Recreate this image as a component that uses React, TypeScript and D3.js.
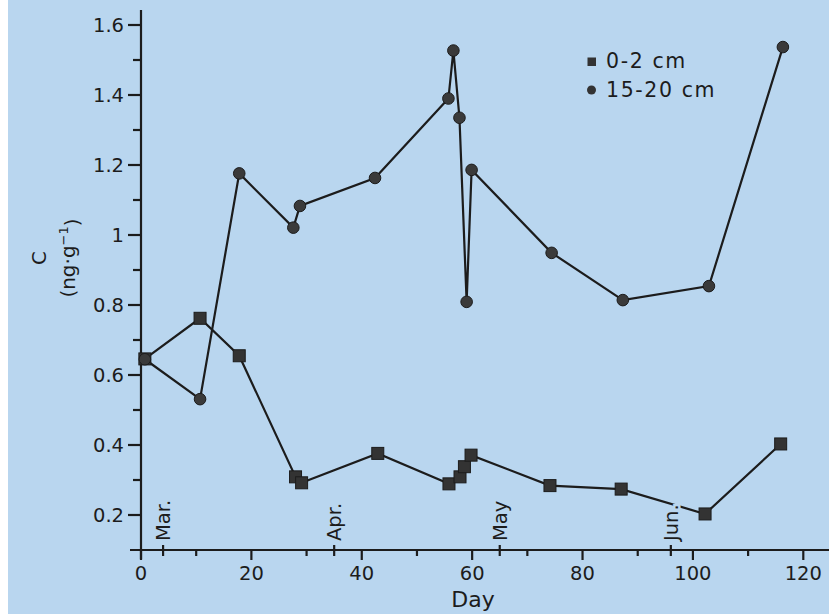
import React from 'react';
import * as d3 from 'd3';

const W = 829,
      H = 614;

// day of sampling and concentration C (ng/g)
const daysTop = [0.7, 10.7, 17.8, 28, 29.1, 42.9, 55.8, 57.8, 58.6, 59.8, 74.1, 87, 102.2, 115.9];
const valsTop = [0.646, 0.762, 0.655, 0.309, 0.292, 0.376, 0.289, 0.309, 0.338, 0.371, 0.284, 0.274, 0.203, 0.403];

const daysDeep = [0.7, 10.7, 17.8, 27.6, 28.8, 42.4, 55.7, 56.6, 57.7, 59.0, 59.9, 74.4, 87.3, 102.9, 116.3];
const valsDeep = [0.645, 0.531, 1.176, 1.021, 1.083, 1.163, 1.39, 1.527, 1.335, 0.809, 1.186, 0.949, 0.814, 0.854, 1.537];

const xMajor = [0, 20, 40, 60, 80, 100, 120];
const xMinor = [10, 30, 50, 70, 90, 110];
const yMajor = [0.2, 0.4, 0.6, 0.8, 1, 1.2, 1.4, 1.6];
const yMinor = [0.3, 0.5, 0.7, 0.9, 1.1, 1.3, 1.5];
const months = ['Mar.', 'Apr.', 'May', 'Jun.'];
const monthDays = [4, 35, 65, 96];

const seriesNames = ['0-2 cm', '15-20 cm'];

const x = d3.scaleLinear().domain([0, 120]).range([141, 803.3]);
const y = d3.scaleLinear().domain([0.1, 1.6]).range([550, 25]);

const bg = '#b9d6ef',
      ink = '#1c1c1c',
      font = '"DejaVu Sans", sans-serif';

const line = d3.line<number>()
  .x(d => x(d[0]))
  .y(d => y(d[1]));

const fmt = (v: number) => (v === 1 ? '1' : v.toFixed(1));

export default function App() {
  const top = daysTop.map((d, i) => [d, valsTop[i]]);
  const deep = daysDeep.map((d, i) => [d, valsDeep[i]]);

  return (
    <svg width={W} height={H}
         style={{position: 'absolute', left: 0, top: 0, display: 'block'}}
         fontFamily={font}>
      <rect x={0} y={0} width={W} height={H} fill="#fff" />
      <rect x={8} y={0} width={W - 8} height={H} fill={bg} />

      {/* y axis */}
      <line x1={x(0)} x2={x(0)} y1={10} y2={559} stroke={ink} strokeWidth={2.2} />
      {yMajor.map(v =>
        <g key={'ym' + v}>
          <line x1={128} x2={x(0)} y1={y(v)} y2={y(v)} stroke={ink} strokeWidth={2.2} />
          <text x={124} y={y(v)} dy="0.36em" textAnchor="end" fontSize={19.5} fill={ink}>{fmt(v)}</text>
        </g>
      )}
      {yMinor.map(v =>
        <line key={'yn' + v} x1={133} x2={x(0)} y1={y(v)} y2={y(v)} stroke={ink} strokeWidth={2.2} />
      )}

      {/* x axis */}
      <line x1={130} x2={W} y1={y(0.1)} y2={y(0.1)} stroke={ink} strokeWidth={2.2} />
      {xMajor.map(d =>
        <g key={'xm' + d}>
          <line x1={x(d)} x2={x(d)} y1={y(0.1)} y2={y(0.1) + 10} stroke={ink} strokeWidth={2.2} />
          <text x={x(d)} y={580} textAnchor="middle" fontSize={19.5} fill={ink}>{d}</text>
        </g>
      )}
      {xMinor.map(d =>
        <line key={'xn' + d} x1={x(d)} x2={x(d)} y1={y(0.1)} y2={y(0.1) + 6} stroke={ink} strokeWidth={2.2} />
      )}

      {/* data lines */}
      <path d={line(top as any) || ''} fill="none" stroke={ink} strokeWidth={2.2} />
      <path d={line(deep as any) || ''} fill="none" stroke={ink} strokeWidth={2.2} />

      {/* month marks */}
      {months.map((m, i) =>
        <g key={m}>
          <line x1={x(monthDays[i])} x2={x(monthDays[i])} y1={y(0.1) - 5} y2={y(0.1) + 6}
                stroke={ink} strokeWidth={2.2} />
          <text transform={`translate(${x(monthDays[i])},541) rotate(-90)`} dy="0.36em"
                fontSize={19.5} fill={ink} stroke={bg} strokeWidth={5} paintOrder="stroke">{m}</text>
        </g>
      )}

      {top.map((p, i) =>
        <rect key={'s' + i} x={x(p[0]) - 6} y={y(p[1]) - 6} width={12} height={12}
              fill="#333" stroke={ink} strokeWidth={1} />
      )}
      {deep.map((p, i) =>
        <circle key={'c' + i} cx={x(p[0])} cy={y(p[1])} r={5.8}
                fill="#3a3a3a" stroke={ink} strokeWidth={1} />
      )}

      {/* legend */}
      <rect x={587.5} y={57.5} width={8.5} height={8.5} fill="#333" />
      <text x={606} y={68} fontSize={20.5} fill={ink} letterSpacing={1.6}>{seriesNames[0]}</text>
      <circle cx={591.5} cy={90} r={4.5} fill="#333" />
      <text x={606} y={97} fontSize={20.5} fill={ink} letterSpacing={1.6}>{seriesNames[1]}</text>

      {/* axis titles */}
      <text x={473} y={607} textAnchor="middle" fontSize={22} fill={ink}>Day</text>
      <text transform="translate(39,258) rotate(-90)" dy="0.36em" textAnchor="middle"
            fontSize={20} fill={ink}>C</text>
      <text transform="translate(68,258) rotate(-90)" dy="0.36em" textAnchor="middle"
            fontSize={20} fill={ink}>(ng·g<tspan dy="-0.55em" fontSize={13}>−1</tspan><tspan dy="0.55em">)</tspan></text>
    </svg>
  );
}
